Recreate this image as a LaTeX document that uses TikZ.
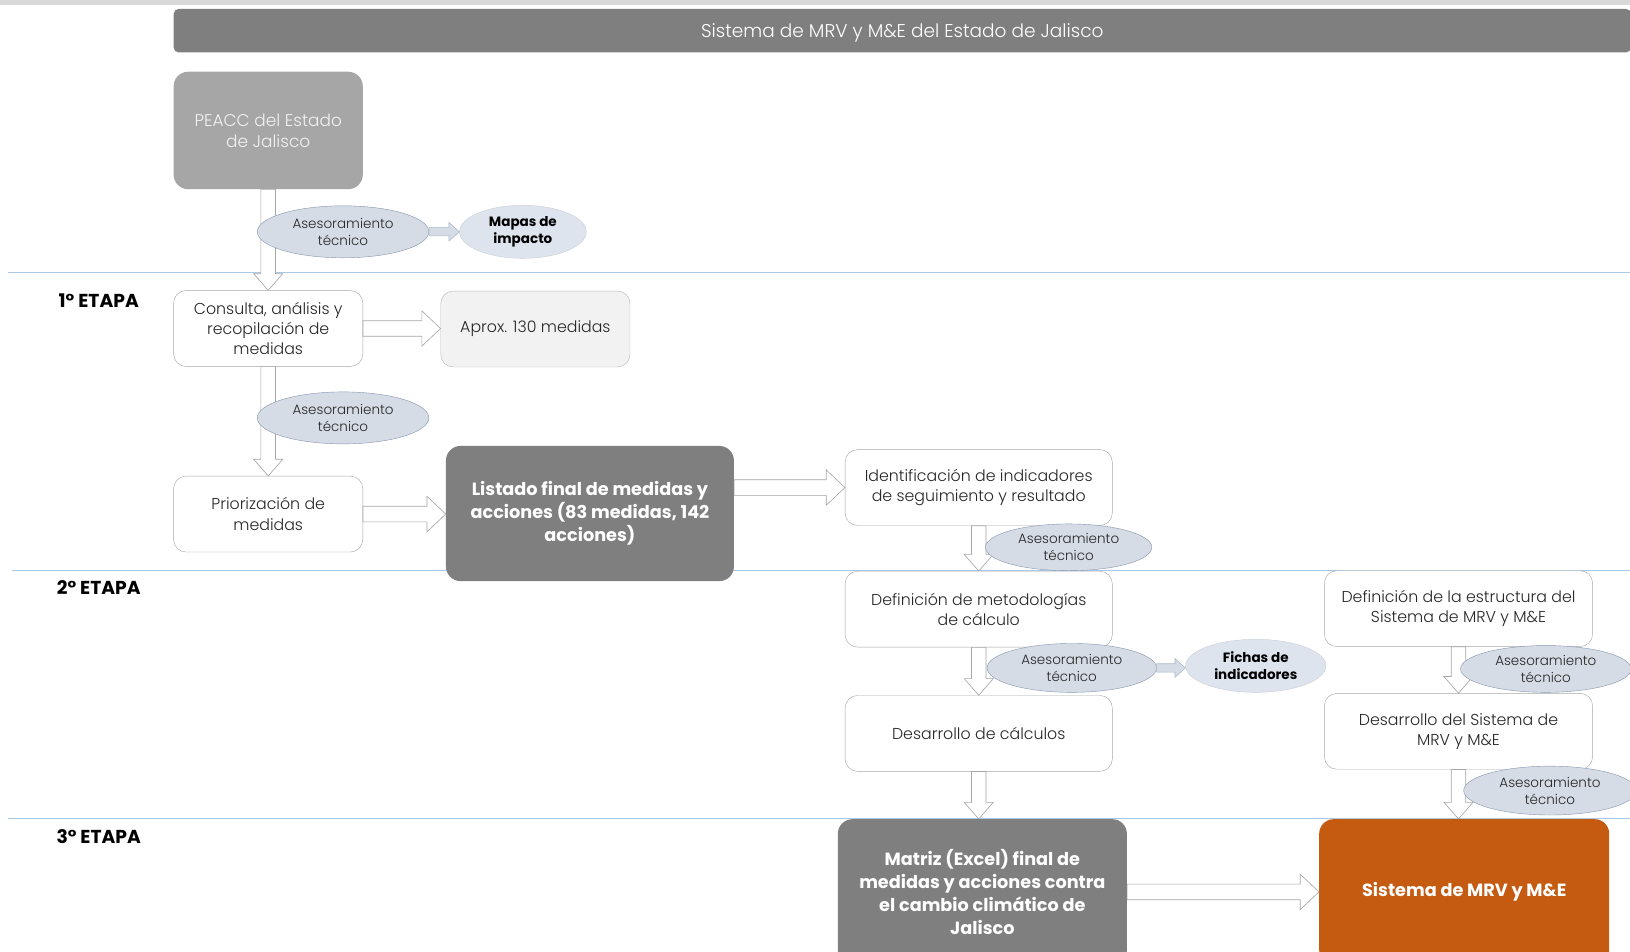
\documentclass[tikz,border=0pt]{standalone}
\usepackage{fontspec}
\setmainfont{Poppins}[UprightFont=* Light, BoldFont=* Bold]
\usetikzlibrary{shapes.geometric,calc}

\definecolor{bargray}{HTML}{7F7F7F}
\definecolor{peaccgray}{HTML}{A6A6A6}
\definecolor{stripgray}{HTML}{D9D9D9}
\definecolor{aproxfill}{HTML}{F2F2F2}
\definecolor{boxline}{HTML}{A6A6A6}
\definecolor{mrvorange}{HTML}{C55A11}
\definecolor{stageline}{HTML}{A9C8E6}
\definecolor{asefill}{HTML}{D6DCE5}
\definecolor{aseline}{HTML}{8497B0}
\definecolor{prodfill}{HTML}{DEE4EE}
\definecolor{txtgray}{HTML}{262626}

\tikzset{
  box/.style={draw=boxline, rounded corners=12pt, fill=white, align=center,
    minimum width=182pt, minimum height=73pt, inner sep=2pt, text=txtgray,
    font=\fontsize{15.2}{19.5}\selectfont},
  widebox/.style={box, minimum width=257pt},
  darkbox/.style={rounded corners=14pt, fill=bargray, align=center, text=white,
    inner sep=2pt, font=\bfseries\fontsize{17}{22}\selectfont},
  ase/.style={ellipse, draw=aseline, fill=asefill, align=center, inner sep=0pt,
    minimum width=165pt, minimum height=50pt, text=txtgray,
    font=\fontsize{13}{16.5}\selectfont},
  prod/.style={ellipse, draw=prodfill!80!gray, fill=prodfill, align=center, inner sep=0pt,
    minimum height=51pt, text=black, font=\bfseries\fontsize{13}{16.5}\selectfont},
  stage/.style={font=\bfseries\fontsize{18}{20}\selectfont},
  blockarr/.style={draw=boxline, fill=white, line width=0.6pt, line join=miter},
  smallarr/.style={draw=aseline!70, fill=asefill, line width=0.5pt}
}

% hollow block arrows between anchors
\newcommand{\downblock}[2]{%
  \draw[blockarr] let \p1=(#1), \p2=(#2) in
    (\x1-7pt,\y1) -- (\x1-7pt,\y2+16pt) -- (\x1-14pt,\y2+16pt) -- (\x1,\y2)
    -- (\x1+14pt,\y2+16pt) -- (\x1+7pt,\y2+16pt) -- (\x1+7pt,\y1) -- cycle;}
\newcommand{\rightblock}[2]{%
  \draw[blockarr] let \p1=(#1), \p2=(#2) in
    (\x1,\y1+7.5pt) -- (\x2-18pt,\y1+7.5pt) -- (\x2-18pt,\y1+17pt) -- (\x2,\y1)
    -- (\x2-18pt,\y1-17pt) -- (\x2-18pt,\y1-7.5pt) -- (\x1,\y1-7.5pt) -- cycle;}
\newcommand{\smallblock}[2]{%
  \draw[smallarr] let \p1=(#1), \p2=(#2) in
    (\x1,\y1+4pt) -- (\x2-10pt,\y1+4pt) -- (\x2-10pt,\y1+9pt) -- (\x2,\y1)
    -- (\x2-10pt,\y1-9pt) -- (\x2-10pt,\y1-4pt) -- (\x1,\y1-4pt) -- cycle;}

\begin{document}
\begin{tikzpicture}[x=1pt,y=-1pt]
  \useasboundingbox (0,0) rectangle (1568,915);
  \clip (0,0) rectangle (1568,915);
  \fill[white] (0,0) rectangle (1568,915);

  %top strip and title
  \fill[stripgray] (0,0) rectangle (1568,5);
  \node[fill=bargray, rounded corners=5pt, minimum width=1402pt, minimum height=42pt,
    text depth=0pt, text=white, font=\fontsize{17.8}{20}\selectfont] (title) at (868,29.5)
    {Sistema de MRV y M\&E del Estado de Jalisco};

  %stage lines
  \draw[stageline, line width=0.6pt] (8,262) -- (1568,262);
  \draw[stageline, line width=0.6pt] (12,549) -- (1568,549);
  \draw[stageline, line width=0.6pt] (8,787) -- (1568,787);
  \node[stage] (stage1) at (95,289) {1° ETAPA};
  \node[stage] (stage2) at (95,565) {2° ETAPA};
  \node[stage] (stage3) at (95,805) {3° ETAPA};

  %boxes
  \node[darkbox, fill=peaccgray, text=white!95!black, minimum width=182pt, minimum height=113pt,
    font=\fontsize{16.3}{20}\selectfont] (peacc) at (258,125.5) {PEACC del Estado\\de Jalisco};
  \node[box] (consulta) at (258,316) {Consulta, análisis y\\recopilación de\\medidas};
  \node[box, fill=aproxfill, draw=boxline!80] (aprox) at (515,316.5) {Aprox. 130 medidas};
  \node[box] (prio) at (258,494.5) {Priorización de\\medidas};
  \node[darkbox, minimum width=277pt, minimum height=130pt] (listado) at (567.5,494)
    {Listado final de medidas y\\acciones (83 medidas, 142\\acciones)};
  \node[widebox] (ident) at (941.5,469) {Identificación de indicadores\\de seguimiento y resultado};
  \node[widebox] (defmet) at (941.5,586) {Definición de metodologías\\de cálculo};
  \node[widebox] (calc) at (941.5,705.5) {Desarrollo de cálculos};
  \node[darkbox, minimum width=278pt, minimum height=140pt] (matriz) at (945,858)
    {Matriz (Excel) final de\\medidas y acciones contra\\el cambio climático de\\Jalisco};
  \node[widebox, minimum width=258pt] (defest) at (1403,585.5)
    {Definición de la estructura del\\Sistema de MRV y M\&E};
  \node[widebox, minimum width=258pt] (dessis) at (1403,703.5)
    {Desarrollo del Sistema de\\MRV y M\&E};
  \node[darkbox, fill=mrvorange, minimum width=279pt, minimum height=140pt] (sistema)
    at (1408.5,858) {Sistema de MRV y M\&E};

  %block arrows
  \downblock{peacc.south}{consulta.north}
  \downblock{consulta.south}{prio.north}
  \downblock{ident.south}{defmet.north}
  \downblock{defmet.south}{calc.north}
  \downblock{calc.south}{matriz.north}
  \downblock{defest.south}{dessis.north}
  \downblock{dessis.south}{dessis.south |- sistema.north}
  \rightblock{consulta.east}{aprox.west}
  \rightblock{prio.east}{listado.west}
  \rightblock{listado.east |- ident.west}{ident.west}
  \rightblock{matriz.east}{sistema.west}

  %technical advice
  \node[ase] (ase1) at (330,223) {Asesoramiento\\técnico};
  \node[ase] (ase2) at (330,402) {Asesoramiento\\técnico};
  \node[ase, minimum width=160pt, minimum height=45pt] (ase3) at (1028,526.5) {Asesoramiento\\técnico};
  \node[ase, minimum width=163pt, minimum height=47pt] (ase4) at (1031,642.5) {Asesoramiento\\técnico};
  \node[ase, minimum width=164pt, minimum height=45pt] (ase5) at (1487,643.5) {Asesoramiento\\técnico};
  \node[ase, minimum width=166pt, minimum height=47pt] (ase6) at (1491,760.5) {Asesoramiento\\técnico};
  \node[prod, minimum width=122pt] (mapas) at (503,223) {Mapas de\\impacto};
  \node[prod, minimum width=135pt] (fichas) at (1208,640.5) {Fichas de\\indicadores};
  \smallblock{ase1.east}{mapas.west}
  \smallblock{ase4.east}{fichas.west}
\end{tikzpicture}
\end{document}
